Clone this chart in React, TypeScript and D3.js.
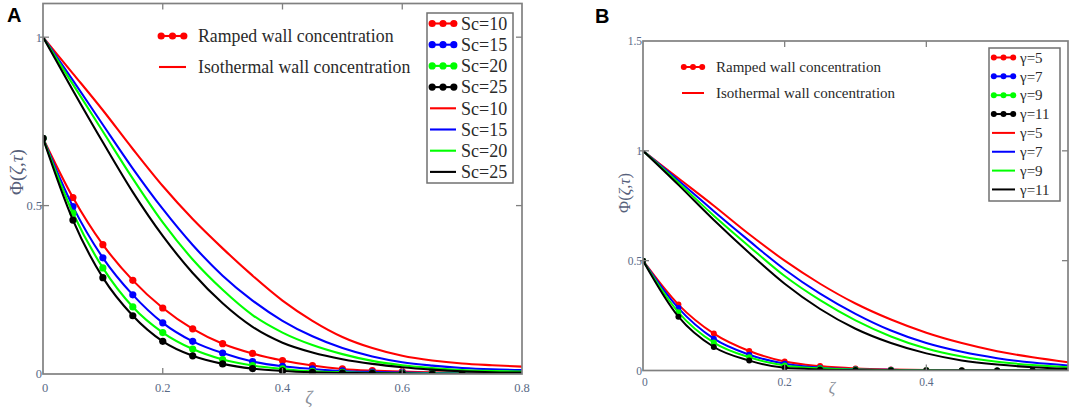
import React, { useRef, useEffect } from 'react';
import * as d3 from 'd3';

// ---- panel A : Schmidt number ----
const zetaA = [0, 0.05, 0.1, 0.15, 0.2, 0.25, 0.3, 0.35, 0.4, 0.45, 0.5, 0.55, 0.6, 0.65, 0.7, 0.75, 0.8];
const labelsA = ['Sc=10', 'Sc=15', 'Sc=20', 'Sc=25'];

const rampSc10 = [0.7, 0.524, 0.384, 0.278, 0.196, 0.134, 0.09, 0.061, 0.04, 0.025, 0.015, 0.01, 0.007, 0.005, 0.003, 0.002, 0.001];
const rampSc15 = [0.7, 0.497, 0.345, 0.235, 0.152, 0.097, 0.062, 0.037, 0.023, 0.015, 0.009, 0.006, 0.004, 0.003, 0.002, 0.001, 0.001];
const rampSc20 = [0.7, 0.478, 0.315, 0.199, 0.123, 0.074, 0.043, 0.025, 0.015, 0.008, 0.005, 0.003, 0.002, 0.001, 0.001, 0, 0];
const rampSc25 = [0.7, 0.457, 0.286, 0.173, 0.097, 0.054, 0.03, 0.016, 0.009, 0.005, 0.003, 0.002, 0.001, 0, 0, 0, 0];

const isoSc10 = [1, 0.892, 0.783, 0.668, 0.558, 0.46, 0.373, 0.292, 0.218, 0.158, 0.11, 0.077, 0.054, 0.04, 0.031, 0.026, 0.022];
const isoSc15 = [1, 0.872, 0.74, 0.61, 0.49, 0.383, 0.292, 0.218, 0.158, 0.112, 0.077, 0.052, 0.035, 0.025, 0.018, 0.014, 0.012];
const isoSc20 = [1, 0.86, 0.72, 0.58, 0.45, 0.34, 0.25, 0.175, 0.123, 0.086, 0.059, 0.039, 0.026, 0.018, 0.012, 0.009, 0.007];
const isoSc25 = [1, 0.842, 0.688, 0.54, 0.41, 0.3, 0.21, 0.14, 0.093, 0.064, 0.044, 0.03, 0.02, 0.013, 0.008, 0.005, 0.004];

// ---- panel B : gamma ----
const zetaB = [0, 0.05, 0.1, 0.15, 0.2, 0.25, 0.3, 0.35, 0.4, 0.45, 0.5, 0.55, 0.6];
const labelsB = ['γ=5', 'γ=7', 'γ=9', 'γ=11'];

const rampG5 = [0.5, 0.3, 0.168, 0.089, 0.041, 0.02, 0.009, 0.004, 0.002, 0.001, 0, 0, 0];
const rampG7 = [0.5, 0.284, 0.145, 0.072, 0.031, 0.013, 0.006, 0.003, 0.001, 0, 0, 0, 0];
const rampG9 = [0.5, 0.265, 0.127, 0.06, 0.023, 0.01, 0.004, 0.002, 0.001, 0, 0, 0, 0];
const rampG11 = [0.5, 0.245, 0.107, 0.045, 0.012, 0.005, 0.002, 0.001, 0, 0, 0, 0, 0];

const isoG5 = [1, 0.875, 0.75, 0.62, 0.5, 0.395, 0.305, 0.232, 0.172, 0.125, 0.088, 0.06, 0.038];
const isoG7 = [1, 0.865, 0.725, 0.59, 0.46, 0.35, 0.258, 0.182, 0.125, 0.085, 0.056, 0.036, 0.023];
const isoG9 = [1, 0.855, 0.705, 0.565, 0.43, 0.32, 0.228, 0.155, 0.1, 0.064, 0.04, 0.025, 0.015];
const isoG11 = [1, 0.845, 0.685, 0.535, 0.395, 0.28, 0.19, 0.125, 0.078, 0.046, 0.027, 0.015, 0.008];

const xTicksA = [0, 0.2, 0.4, 0.6, 0.8];
const yTicksA = [0, 0.5, 1];
const xTicksB = [0, 0.2, 0.4];
const yTicksB = [0, 0.5, 1, 1.5];

const colors = ['#ff0000', '#0000ff', '#00ff00', '#000000'];
const serif = '"Liberation Serif", "Times New Roman", serif';

interface Panel {
  id: string;
  title: string;
  titleX: number;
  titleY: number;
  zeta: number[];
  ramped: number[][];
  iso: number[][];
  labels: string[];
  xDomain: [number, number];
  yDomain: [number, number];
  box: { left: number; right: number; top: number; bottom: number };
  xTicks: number[];
  yTicks: number[];
  tickFont: number;
  tickLabelDy: number;
  r: number;
  lw: number;
  // legend with the series
  leg: { x: number; y: number; w: number; h: number; row0: number; step: number; font: number; segW: number };
  // legend explaining markers vs plain lines
  note: { x: number; y1: number; y2: number; textX: number; font: number; segW: number };
  yLabel: { x: number; y: number; font: number };
  xLabel: { x: number; y: number; font: number };
}

const panels: Panel[] = [
  {
    id: 'A', title: 'A', titleX: 7, titleY: 22,
    zeta: zetaA, ramped: [rampSc10, rampSc15, rampSc20, rampSc25], iso: [isoSc10, isoSc15, isoSc20, isoSc25],
    labels: labelsA,
    xDomain: [0, 0.8], yDomain: [0, 1.1],
    box: { left: 43, right: 522, top: 3.5, bottom: 374 },
    xTicks: xTicksA, yTicks: yTicksA, tickFont: 12.5, tickLabelDy: 18, r: 3.6, lw: 2.1,
    leg: { x: 427, y: 13, w: 86, h: 170, row0: 23.5, step: 21.2, font: 18, segW: 26 },
    note: { x: 159, y1: 36, y2: 67, textX: 198, font: 17.8, segW: 27 },
    yLabel: { x: 16, y: 172, font: 19 },
    xLabel: { x: 309, y: 404, font: 18 },
  },
  {
    id: 'B', title: 'B', titleX: 595, titleY: 23,
    zeta: zetaB, ramped: [rampG5, rampG7, rampG9, rampG11], iso: [isoG5, isoG7, isoG9, isoG11],
    labels: labelsB,
    xDomain: [0, 0.6], yDomain: [0, 1.5],
    box: { left: 643, right: 1068, top: 41, bottom: 370.5 },
    xTicks: xTicksB, yTicks: yTicksB, tickFont: 11.5, tickLabelDy: 15, r: 3, lw: 2,
    leg: { x: 989, y: 48, w: 71, h: 153, row0: 57.5, step: 18.85, font: 15, segW: 23 },
    note: { x: 682, y1: 67, y2: 93, textX: 716, font: 15, segW: 22 },
    yLabel: { x: 624, y: 193, font: 16.5 },
    xLabel: { x: 832, y: 393, font: 16 },
  },
];

type Sel = d3.Selection<SVGSVGElement, unknown, null, undefined>;

function drawPanel(svg: Sel, p: Panel) {
  const { left, right, top, bottom } = p.box;
  const x = d3.scaleLinear().domain(p.xDomain).range([left, right]);
  const y = d3.scaleLinear().domain(p.yDomain).range([bottom, top]);
  const g = svg.append('g');

  const clipId = 'clip' + p.id;
  svg.append('defs').append('clipPath').attr('id', clipId)
    .append('rect').attr('x', left).attr('y', top).attr('width', right - left).attr('height', bottom - top);

  const line = d3.line<number>()
    .x((_, i) => x(p.zeta[i]))
    .y(d => y(d))
    .curve(d3.curveMonotoneX);

  const plot = g.append('g').attr('clip-path', `url(#${clipId})`);

  p.ramped.forEach((vals, k) => {
    plot.append('path').attr('d', line(vals)).attr('fill', 'none')
      .attr('stroke', colors[k]).attr('stroke-width', p.lw);
    plot.append('g').selectAll('circle').data(vals).enter().append('circle')
      .attr('cx', (_, i) => x(p.zeta[i]))
      .attr('cy', d => y(d))
      .attr('r', p.r)
      .attr('fill', colors[k]);
  });
  p.iso.forEach((vals, k) => {
    plot.append('path').attr('d', line(vals)).attr('fill', 'none')
      .attr('stroke', colors[k]).attr('stroke-width', p.lw);
  });

  // frame
  g.append('rect').attr('x', left).attr('y', top).attr('width', right - left).attr('height', bottom - top)
    .attr('fill', 'none').attr('stroke', '#808080').attr('stroke-width', 1.7);

  const tickLen = 6;
  const inner = (arr: number[], dom: [number, number]) => arr.filter(v => v > dom[0] && v < dom[1]);
  inner(p.xTicks, p.xDomain).forEach(v => {
    g.append('line').attr('x1', x(v)).attr('x2', x(v)).attr('y1', bottom).attr('y2', bottom - tickLen)
      .attr('stroke', '#808080').attr('stroke-width', 1.3);
    g.append('line').attr('x1', x(v)).attr('x2', x(v)).attr('y1', top).attr('y2', top + tickLen)
      .attr('stroke', '#808080').attr('stroke-width', 1.3);
  });
  inner(p.yTicks, p.yDomain).forEach(v => {
    g.append('line').attr('x1', left - 3).attr('x2', left + tickLen).attr('y1', y(v)).attr('y2', y(v))
      .attr('stroke', '#808080').attr('stroke-width', 1.3);
    g.append('line').attr('x1', right).attr('x2', right - tickLen).attr('y1', y(v)).attr('y2', y(v))
      .attr('stroke', '#808080').attr('stroke-width', 1.3);
  });

  const tickColor = '#5a6a86';
  const fmt = d3.format('~g');
  g.selectAll('text.xt').data(p.xTicks).enter().append('text')
    .attr('class', 'xt')
    .attr('x', d => (d === 0 ? x(d) - 1 : x(d)))
    .attr('y', bottom + p.tickLabelDy)
    .attr('text-anchor', d => (d === 0 ? 'start' : 'middle'))
    .attr('font-family', serif).attr('font-size', p.tickFont).attr('fill', tickColor)
    .text(d => fmt(d));
  g.selectAll('text.yt').data(p.yTicks).enter().append('text')
    .attr('class', 'yt')
    .attr('x', left - 1)
    .attr('y', d => y(d))
    .attr('dy', '0.35em')
    .attr('text-anchor', 'end')
    .attr('font-family', serif).attr('font-size', p.tickFont).attr('fill', tickColor)
    .text(d => fmt(d));

  // axis titles
  const yl = g.append('text')
    .attr('transform', `translate(${p.yLabel.x},${p.yLabel.y}) rotate(-90)`)
    .attr('text-anchor', 'middle').attr('dy', '0.35em')
    .attr('font-family', serif).attr('font-size', p.yLabel.font).attr('fill', '#56607a');
  yl.append('tspan').text('Φ(');
  yl.append('tspan').attr('font-style', 'italic').text('ζ');
  yl.append('tspan').text(',');
  yl.append('tspan').attr('font-style', 'italic').text('τ');
  yl.append('tspan').text(')');

  g.append('text').attr('x', p.xLabel.x).attr('y', p.xLabel.y)
    .attr('text-anchor', 'middle').attr('font-style', 'italic')
    .attr('font-family', serif).attr('font-size', p.xLabel.font).attr('fill', '#8a8f99')
    .text('ζ');

  // panel letter
  g.append('text').attr('x', p.titleX).attr('y', p.titleY)
    .attr('font-family', '"Liberation Sans", Arial, sans-serif').attr('font-weight', 'bold')
    .attr('font-size', 20).attr('fill', '#000').text(p.title);

  // marker helper for legends
  const markerRow = (gx: number, gy: number, w: number, color: string, dots: boolean) => {
    g.append('line').attr('x1', gx).attr('x2', gx + w).attr('y1', gy).attr('y2', gy)
      .attr('stroke', color).attr('stroke-width', p.lw);
    if (dots) {
      [0, 0.5, 1].forEach(f => {
        g.append('circle').attr('cx', gx + p.r * 0.6 + f * (w - p.r * 1.2)).attr('cy', gy)
          .attr('r', p.r).attr('fill', color);
      });
    }
  };

  // note legend (top-left)
  markerRow(p.note.x, p.note.y1, p.note.segW, colors[0], true);
  markerRow(p.note.x, p.note.y2, p.note.segW, colors[0], false);
  [['Ramped wall concentration', p.note.y1], ['Isothermal wall concentration', p.note.y2]].forEach(([t, yy]) => {
    g.append('text').attr('x', p.note.textX).attr('y', yy as number).attr('dy', '0.35em')
      .attr('font-family', serif).attr('font-size', p.note.font).attr('fill', '#2a2a2a')
      .text(t as string);
  });

  // series legend box
  const L = p.leg;
  g.append('rect').attr('x', L.x).attr('y', L.y).attr('width', L.w).attr('height', L.h)
    .attr('fill', '#fff').attr('stroke', '#707070').attr('stroke-width', 1.5);
  const rows = [...p.labels.map((l, k) => ({ l, k, dots: true })), ...p.labels.map((l, k) => ({ l, k, dots: false }))];
  rows.forEach((row, i) => {
    const yy = L.row0 + i * L.step;
    markerRow(L.x + 3, yy, L.segW, colors[row.k], row.dots);
    g.append('text').attr('x', L.x + L.segW + 8).attr('y', yy).attr('dy', '0.35em')
      .attr('font-family', serif).attr('font-size', L.font).attr('fill', '#2a2a2a')
      .text(row.l);
  });
}

const App: React.FC = () => {
  const ref = useRef<SVGSVGElement | null>(null);

  useEffect(() => {
    if (!ref.current) return;
    const svg = d3.select(ref.current);
    svg.selectAll('*').remove();
    panels.forEach(p => drawPanel(svg, p));
  }, []);

  return (
    <svg ref={ref} width={1072} height={407}
      style={{ position: 'absolute', left: 0, top: 0, background: '#fff' }} />
  );
};

export default App;
